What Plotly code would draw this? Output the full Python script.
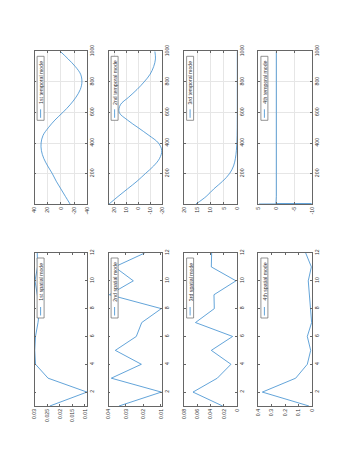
import plotly.graph_objects as go

# ---------------- data ----------------
t_index = [1, 50, 100, 150, 200, 250, 300, 350, 400, 450, 500,
           550, 600, 650, 700, 750, 800, 850, 900, 950, 1000]
temporal1 = [-14, -7, 0, 7, 13, 20, 26, 29.5, 30, 27, 19,
             9, -3, -14, -23, -29.5, -32, -30, -22, -11, 1]
temporal2 = [24.5, 17, 9, 1, -6, -13, -18, -19.8, -17, -9, 0,
             9, 16, 15, 8, 1, -5, -10, -13, -14.5, -14]
temporal3 = [15.5, 11.7, 8.8, 5.5, 2.9, 1.4, 0.7, 0.35, 0.15, 0.07, 0.03,
             0.01, 0, 0, 0, 0, 0, 0, 0, 0, 0]
t4_index = [1, 2, 3, 50, 200, 400, 600, 800, 1000]
temporal4 = [4.8, -9.8, 0.1, 0, 0, 0, 0, 0, 0]

s_index = [1, 2, 3, 4, 5, 6, 7, 8, 9, 10, 11, 12]
spatial1 = [0.0240, 0.0092, 0.0247, 0.0297, 0.0300, 0.0297, 0.0287, 0.0280, 0.0290, 0.0299, 0.0289, 0.0290]
spatial2 = [0.0340, 0.0098, 0.0384, 0.0212, 0.0361, 0.0241, 0.0210, 0.0098, 0.0395, 0.0258, 0.0365, 0.0193]
spatial3 = [0.0220, 0.0665, 0.0300, 0.0095, 0.0390, 0.0070, 0.0628, 0.0345, 0.0350, 0.0020, 0.0390, 0.0385]
spatial4 = [0.025, 0.370, 0.123, 0.037, 0.012, 0.037, 0.005, 0.012, 0.020, 0.030, 0.007, 0.049]

temporal_names = ["1st temporal mode", "2nd temporal mode", "3rd temporal mode", "4th temporal mode"]
spatial_names = ["1st spatial mode", "2nd spatial mode", "3rd spatial mode", "4th spatial mode"]

temporal_ranges = [(-40, 40), (-20, 25), (0, 20), (-10, 5)]
temporal_ticks = [[-40, -20, 0, 20, 40], [-20, -10, 0, 10, 20], [0, 5, 10, 15, 20], [-10, -5, 0, 5]]
temporal_ticktext = [["-40", "-20", "0", "20", "40"], ["-20", "-10", "0", "10", "20"],
                     ["0", "5", "10", "15", "20"], ["-10", "-5", "0", "5"]]
spatial_ranges = [(0.0091, 0.0301), (0.0094, 0.0400), (0, 0.08), (0, 0.4)]
spatial_ticks = [[0.01, 0.015, 0.02, 0.025, 0.03], [0.01, 0.02, 0.03, 0.04],
                 [0, 0.02, 0.04, 0.06, 0.08], [0, 0.1, 0.2, 0.3, 0.4]]
spatial_ticktext = [["0.01", "0.015", "0.02", "0.025", "0.03"], ["0.01", "0.02", "0.03", "0.04"],
                    ["0", "0.02", "0.04", "0.06", "0.08"], ["0", "0.1", "0.2", "0.3", "0.4"]]
t_ticks = [200, 400, 600, 800, 1000]
s_ticks = [2, 4, 6, 8, 10, 12]

# ---------------- layout geometry (pixels) ----------------
W, H = 342, 458
col_x = [(26.5, 79.2), (100.5, 154.0), (176.0, 229.3), (250.3, 304.3)]
row_y = {"temporal": (43.3, 196.0), "spatial": (245.0, 398.0)}

LINE = "#2f86cc"
FRAME = "#666666"
TXT = "#333333"
GRID = "#e6e6e6"
FONT = "Liberation Sans, Arial, sans-serif"

fig = go.Figure()
layout = dict(width=W, height=H, margin=dict(l=0, r=0, t=0, b=0),
              paper_bgcolor="white", plot_bgcolor="white", showlegend=False)
shapes = []
annotations = []


def px2x(px):
    return px / W


def py2y(py):
    return 1 - py / H


panels = []
for i in range(4):
    panels.append(("temporal", i, t_index if i < 3 else t4_index,
                   [temporal1, temporal2, temporal3, temporal4][i],
                   temporal_ranges[i], temporal_ticks[i], temporal_ticktext[i],
                   (1, 1000), t_ticks, temporal_names[i], True, i < 3))
for i in range(4):
    panels.append(("spatial", i, s_index,
                   [spatial1, spatial2, spatial3, spatial4][i],
                   spatial_ranges[i], spatial_ticks[i], spatial_ticktext[i],
                   (1, 12), s_ticks, spatial_names[i], False, False))

for k, (row, col, idx, vals, vr, vt, vtt, ir, it, name, grid, smooth) in enumerate(panels):
    n = k + 1
    xa = "xaxis" if n == 1 else f"xaxis{n}"
    ya = "yaxis" if n == 1 else f"yaxis{n}"
    xr = "x" if n == 1 else f"x{n}"
    yr = "y" if n == 1 else f"y{n}"
    x0, x1 = col_x[col]
    y0, y1 = row_y[row]
    common = dict(showline=True, linecolor=FRAME, linewidth=0.7, mirror="ticks",
                  ticks="inside", ticklen=2, tickwidth=0.6, tickcolor=FRAME,
                  tickangle=-90, tickfont=dict(family=FONT, size=5.2, color=TXT),
                  showgrid=grid, gridcolor=GRID, gridwidth=0.6, zeroline=False,
                  fixedrange=True, automargin=False)
    layout[xa] = dict(common, domain=[px2x(x0), px2x(x1)], anchor=yr,
                      range=[vr[1], vr[0]], tickmode="array", tickvals=vt, ticktext=vtt,
                      side="bottom")
    layout[ya] = dict(common, domain=[py2y(y1), py2y(y0)], anchor=xr,
                      range=[ir[0], ir[1]], tickmode="array", tickvals=it,
                      ticktext=[str(v) for v in it], side="right")
    fig.add_trace(go.Scatter(x=vals, y=idx, mode="lines", xaxis=xr, yaxis=yr,
                             line=dict(color=LINE, width=0.75,
                                       shape="spline" if smooth else "linear",
                                       smoothing=1.0),
                             cliponaxis=True, hoverinfo="skip"))

    # legend box (rotated legend drawn with shapes + rotated text)
    bx0, bx1 = x0 + 2.6, x0 + 9.6
    by0 = y0 + 5.0
    by1 = by0 + (64.0 if row == "temporal" else 60.0)
    shapes.append(dict(type="rect", xref="paper", yref="paper",
                       x0=px2x(bx0), x1=px2x(bx1), y0=py2y(by1), y1=py2y(by0),
                       line=dict(color=FRAME, width=0.7), fillcolor="white", layer="above"))
    cx = (bx0 + bx1) / 2
    shapes.append(dict(type="line", xref="paper", yref="paper",
                       x0=px2x(cx), x1=px2x(cx), y0=py2y(by1 - 2.5), y1=py2y(by1 - 11.0),
                       line=dict(color=LINE, width=0.75), layer="above"))
    annotations.append(dict(xref="paper", yref="paper", x=px2x(cx + 0.3),
                            y=py2y((by0 + by1 - 12.5) / 2), text=name, showarrow=False,
                            textangle=-90, xanchor="center", yanchor="middle",
                            font=dict(family=FONT, size=5.2, color=TXT)))

layout["shapes"] = shapes
layout["annotations"] = annotations
fig.update_layout(**layout)
fig.write_html("out.html")
